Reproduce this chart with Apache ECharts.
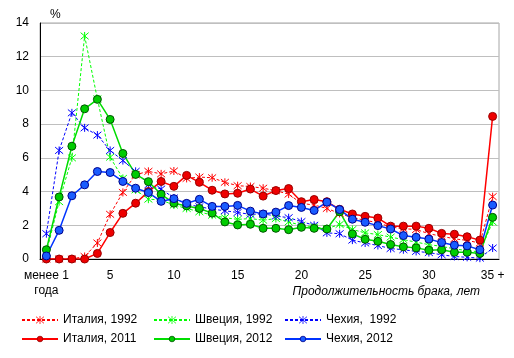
<!DOCTYPE html>
<html><head><meta charset="utf-8">
<script src="https://cdn.jsdelivr.net/npm/echarts@6/dist/echarts.min.js"></script>
<style>html,body{margin:0;padding:0;background:#fff}#c{width:514px;height:358px}</style>
</head><body><div id="c"></div>
<script>
var categories = ['менее 1\nгода','1','2','3','4','5','6','7','8','9','10','11','12','13','14','15','16','17','18','19','20','21','22','23','24','25','26','27','28','29','30','31','32','33','34','35 +'];
var italy1992  = [0,0,0,0.15,0.95,2.65,3.95,5.0,5.2,5.05,5.22,4.78,4.86,4.82,4.55,4.35,4.3,4.2,4.05,3.85,3.3,3.2,3.0,2.7,2.45,2.3,2.15,1.9,1.8,1.75,1.5,1.35,1.2,1.1,0.95,3.7];
var sweden1992 = [0.4,3.4,6.0,13.23,9.5,6.04,4.78,4.1,3.55,3.5,3.2,3.0,2.8,2.6,2.45,2.35,2.4,2.3,2.4,2.2,2.0,1.9,1.8,2.05,1.75,1.55,1.45,1.3,1.15,1.0,0.85,0.75,0.6,0.5,0.42,2.2];
var czech1992  = [1.5,6.44,8.67,7.78,7.35,6.44,5.84,5.2,4.4,4.15,3.62,3.25,3.1,2.96,2.86,2.76,2.65,2.68,2.55,2.45,2.22,2.0,1.55,1.5,1.12,0.95,0.8,0.62,0.55,0.45,0.38,0.25,0.15,0.1,0.05,0.65];
var italy2011  = [0,0,0,0,0.33,1.57,2.71,3.31,4.0,4.6,4.31,4.96,4.55,4.08,3.86,3.9,4.15,3.73,4.06,4.18,3.4,3.53,3.4,2.95,2.67,2.53,2.43,1.95,1.95,1.95,1.82,1.52,1.47,1.32,1.12,8.46];
var sweden2012 = [0.55,3.68,6.69,8.91,9.47,8.28,6.26,5.02,4.59,3.84,3.31,3.15,3.0,2.72,2.2,2.02,2.06,1.82,1.82,1.74,1.88,1.82,1.78,2.8,1.49,1.17,1.05,0.86,0.72,0.66,0.52,0.55,0.4,0.4,0.33,2.47];
var czech2012  = [0.18,1.7,3.75,4.4,5.19,5.13,4.6,4.2,3.94,3.42,3.58,3.3,3.54,3.12,3.12,3.18,2.84,2.67,2.78,3.17,3.06,2.88,3.37,2.93,2.36,2.18,1.98,1.78,1.39,1.29,1.18,0.98,0.82,0.78,0.55,3.2];
var yTicks = {min:0, max:14, interval:2};
var names = ['Италия, 1992','Швеция, 1992','Чехия,  1992','Италия, 2011','Швеция, 2012','Чехия, 2012'];

var star = 'path://M0,0L10,10M10,0L0,10M5,-1L5,11';
function dashed(name, data, color){
  return {name:name, type:'line', data:data, symbol:star, symbolSize:8, showSymbol:true,
    lineStyle:{color:color, width:1, type:[3,2]},
    itemStyle:{color:'rgba(0,0,0,0)', borderColor:color, borderWidth:1},
    emphasis:{disabled:true}, animation:false};
}
function solid(name, data, color, fill, border){
  return {name:name, type:'line', data:data, symbol:'circle', symbolSize:8,
    lineStyle:{color:color, width:1.5},
    itemStyle:{color:fill, borderColor:border, borderWidth:1},
    emphasis:{disabled:true}, animation:false};
}
var font = 'Liberation Sans, Arial, sans-serif';
var chart = echarts.init(document.getElementById('c'), null, {renderer:'canvas'});
function leg(name, left, top, h){
  return {data:[name], left:left, top:top, padding:0, itemWidth:36, itemHeight:h,
    itemStyle:{borderWidth:0.8},
    textStyle:{fontFamily:font, fontSize:12, color:'#000'}, selectedMode:false};
}
chart.setOption({
  backgroundColor:'#fff',
  textStyle:{fontFamily:font},
  title:[
    {text:'%', left:50, top:9, padding:0, textStyle:{fontFamily:font, fontSize:12, fontWeight:'normal', color:'#000'}},
    {text:'Продолжительность брака, лет', right:34, top:286, padding:0, textStyle:{fontFamily:font, fontSize:12, fontWeight:'normal', fontStyle:'italic', color:'#000'}}
  ],
  legend:[
    leg(names[0],21,314,10), leg(names[1],153,314,10), leg(names[2],284,314,10),
    leg(names[3],21,333,7), leg(names[4],153,333,7), leg(names[5],284,333,7)
  ],
  grid:{left:40, right:15, top:23, bottom:99, show:true, borderColor:'#a6a6a6', borderWidth:1},
  xAxis:{type:'category', data:categories, boundaryGap:true,
    axisLine:{lineStyle:{color:'#000', width:1}}, axisTick:{show:false},
    axisLabel:{interval:function(i){return i%5===0;}, color:'#000', fontSize:12, fontFamily:font, margin:9, lineHeight:15},
    splitLine:{show:false}},
  yAxis:{type:'value', min:yTicks.min, max:yTicks.max, interval:yTicks.interval,
    axisLine:{show:true, lineStyle:{color:'#000', width:1}}, axisTick:{show:false},
    axisLabel:{color:'#000', fontSize:12, fontFamily:font, margin:11},
    splitLine:{lineStyle:{color:'#bfbfbf', width:1}}},
  series:[
    dashed(names[0], italy1992, '#ff0000'),
    dashed(names[1], sweden1992, '#00ff00'),
    dashed(names[2], czech1992, '#0000ff'),
    solid(names[3], italy2011, '#ff0000', '#ee0000', '#990000'),
    solid(names[4], sweden2012, '#00dd00', '#00cc00', '#005500'),
    solid(names[5], czech2012, '#0033ff', '#1a5cff', '#00008b')
  ]
});
</script></body></html>
